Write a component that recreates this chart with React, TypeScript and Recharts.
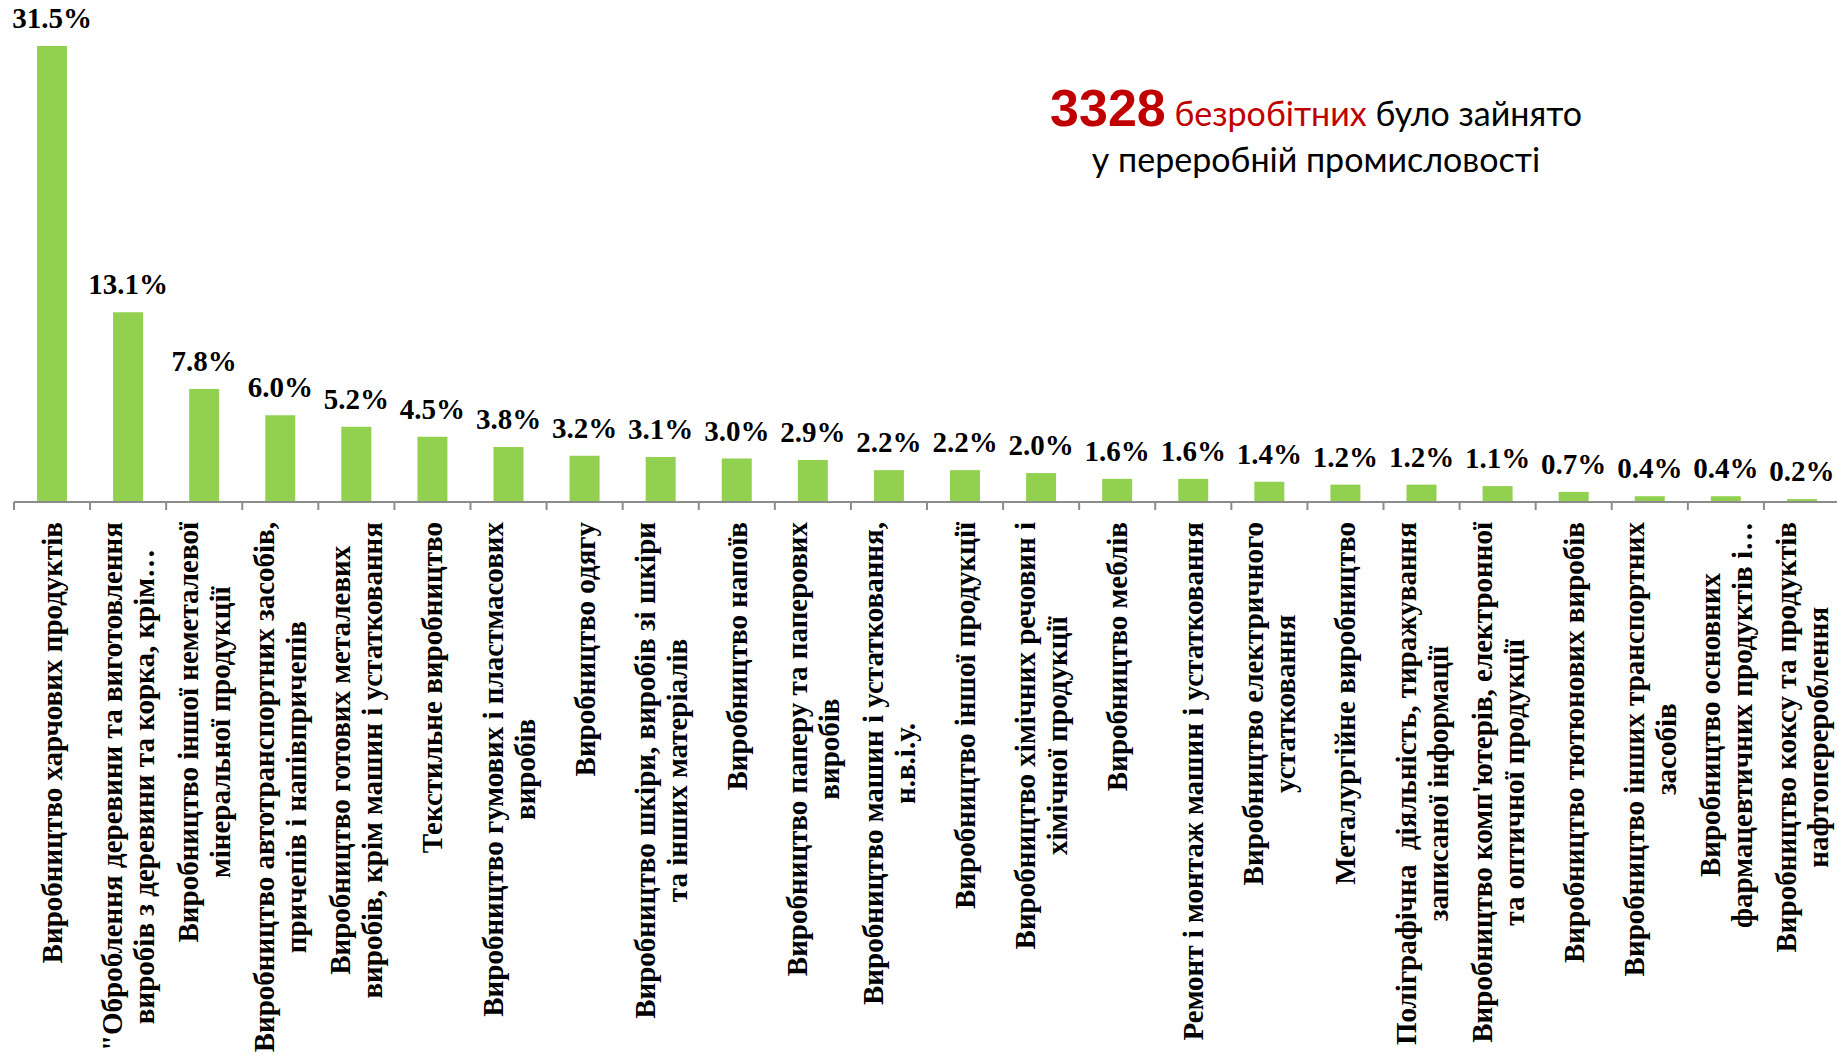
import { BarChart, Bar, XAxis, YAxis, LabelList } from 'recharts';

const categories = [
    'Виробництво харчових продуктів',
    '"Оброблення деревини та виготовлення\nвиробів з деревини та корка, крім…',
    'Виробництво іншої неметалевої\nмінеральної продукції',
    'Виробництво автотранспортних засобів,\nпричепів і напівпричепів',
    'Виробництво готових металевих\nвиробів, крім машин і устатковання',
    'Текстильне виробництво',
    'Виробництво гумових і пластмасових\nвиробів',
    'Виробництво одягу',
    'Виробництво шкіри, виробів зі шкіри\nта інших матеріалів',
    'Виробництво напоїв',
    'Виробництво паперу та паперових\nвиробів',
    'Виробництво машин і устатковання,\nн.в.і.у.',
    'Виробництво іншої продукції',
    'Виробництво хімічних речовин і\nхімічної продукції',
    'Виробництво меблів',
    'Ремонт і монтаж машин і устатковання',
    'Виробництво електричного\nустатковання',
    'Металургійне виробництво',
    'Поліграфічна  діяльність, тиражування\nзаписаної інформації',
    "Виробництво комп'ютерів, електронної\nта оптичної продукції",
    'Виробництво тютюнових виробів',
    'Виробництво інших транспортних\nзасобів',
    'Виробництво основних\nфармацевтичних продуктів і…',
    'Виробництво коксу та продуктів\nнафтоперероблення',
];

const shares = [31.5, 13.1, 7.8, 6.0, 5.2, 4.5, 3.8, 3.2, 3.1, 3.0, 2.9, 2.2, 2.2, 2.0, 1.6, 1.6, 1.4, 1.2, 1.2, 1.1, 0.7, 0.4, 0.4, 0.2];

const totalCount = '3328';

const data = categories.map((name, i) => ({ name, value: shares[i] }));

const CHART_W = 1842;
const CHART_H = 1059;
const MARGIN = { top: 46, right: 2, left: 14, bottom: 0 };
const XAXIS_H = 557;
const AXIS_Y = CHART_H - MARGIN.bottom - XAXIS_H;
const BAND = (CHART_W - MARGIN.left - MARGIN.right) / categories.length;
const FONT = '"Liberation Serif", "Times New Roman", serif';
const FS = 29;
const LINE_H = 32;

let ctx: CanvasRenderingContext2D | null = null;
function measure(text: string) {
    if (!ctx) {
        ctx = document.createElement('canvas').getContext('2d');
    }
    if (!ctx) return text.length * FS * 0.5;
    ctx.font = `bold ${FS}px ${FONT}`;
    return ctx.measureText(text).width;
}

function CategoryTick(props: any) {
    const { x, payload, index } = props;
    const lines: string[] = String(payload.value).split('\n');
    const maxLen = Math.max(...lines.map(measure));
    const mid = -(20 + maxLen / 2);
    return (
        <g>
            <line x1={x - BAND / 2} x2={x - BAND / 2} y1={AXIS_Y} y2={AXIS_Y + 8} stroke="#8c8c8c" strokeWidth={2} />
            {index === categories.length - 1 && (
                <line x1={x + BAND / 2} x2={x + BAND / 2} y1={AXIS_Y} y2={AXIS_Y + 8} stroke="#8c8c8c" strokeWidth={2} />
            )}
            <g transform={`translate(${x},${AXIS_Y}) rotate(-90)`}>
                {lines.map((line, i) => (
                    <text
                        key={i}
                        x={mid}
                        y={(i - (lines.length - 1) / 2) * LINE_H + 10}
                        textAnchor="middle"
                        fontFamily={FONT}
                        fontWeight="bold"
                        fontSize={FS}
                        fill="#000"
                        style={{ whiteSpace: 'pre' }}
                    >
                        {line}
                    </text>
                ))}
            </g>
        </g>
    );
}

export default function App() {
    return (
        <div style={{ position: 'absolute', left: 0, top: 0, width: 1837, height: 1059, overflow: 'hidden', background: '#fff' }}>
            <BarChart width={CHART_W} height={CHART_H} data={data} margin={MARGIN}>
                <XAxis
                    dataKey="name"
                    height={XAXIS_H}
                    interval={0}
                    tickLine={false}
                    axisLine={{ stroke: '#8c8c8c', strokeWidth: 2 }}
                    tick={<CategoryTick />}
                />
                <YAxis hide domain={[0, 'dataMax']} />
                <Bar dataKey="value" fill="#92D050" barSize={30} isAnimationActive={false}>
                    <LabelList
                        dataKey="value"
                        position="top"
                        offset={18}
                        formatter={(v: any) => `${Number(v).toFixed(1)}%`}
                        style={{ fontFamily: FONT, fontWeight: 'bold', fontSize: FS, fill: '#000' }}
                    />
                </Bar>
            </BarChart>
            <svg width={1837} height={1059} style={{ position: 'absolute', left: 0, top: 0, pointerEvents: 'none' }}>
                <text x={1316} y={126} textAnchor="middle" fontFamily="Lato, 'Open Sans', sans-serif" fontSize={34}>
                    <tspan fontFamily="'Liberation Sans', Arial, sans-serif" fontWeight="bold" fontSize={52} fill="#C00000">{totalCount}</tspan>
                    <tspan fill="#C00000"> безробітних</tspan>
                    <tspan fill="#000"> було зайнято</tspan>
                </text>
                <text x={1316} y={172} textAnchor="middle" fontFamily="Lato, 'Open Sans', sans-serif" fontSize={34} fill="#000">
                    у переробній промисловості
                </text>
            </svg>
        </div>
    );
}
